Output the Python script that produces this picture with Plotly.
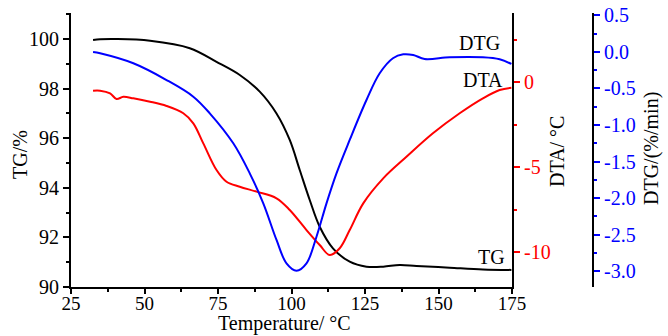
import plotly.graph_objects as go

# Temperature (°C) samples for each curve
tg_t = [32.5, 34.9, 40.5, 51.9, 65.4, 74.5, 82.4, 89.2, 94.9, 99.4, 102.8, 106.2, 109.6, 114.1, 119.8, 125.5, 131.2, 136.8, 142.5, 153.8, 165.1, 174.8]
tg_v = [99.96, 99.99, 100.0, 99.93, 99.63, 99.08, 98.55, 97.88, 97.0, 95.93, 94.72, 93.51, 92.43, 91.56, 91.02, 90.82, 90.82, 90.89, 90.85, 90.78, 90.71, 90.69]

dtg_t = [32.5, 34.9, 46.2, 57.5, 66.6, 72.2, 80.2, 85.8, 90.4, 94.9, 98.3, 101.7, 105.1, 108.5, 111.9, 115.3, 119.8, 125.5, 130.0, 134.5, 138.0, 141.4, 145.3, 153.8, 165.1, 170.8, 174.8]
dtg_v = [0.0, -0.018, -0.155, -0.384, -0.612, -0.84, -1.251, -1.662, -2.073, -2.575, -2.895, -2.996, -2.895, -2.53, -2.073, -1.662, -1.205, -0.658, -0.292, -0.086, -0.032, -0.041, -0.096, -0.073, -0.073, -0.10, -0.164]

dta_t = [32.5, 34.9, 38.3, 40.5, 42.8, 46.2, 51.9, 57.5, 63.2, 66.6, 70.0, 74.5, 77.9, 82.4, 88.1, 94.9, 99.4, 105.1, 109.6, 113.0, 116.4, 119.8, 124.4, 131.2, 139.1, 148.1, 157.2, 165.1, 170.8, 174.8]
dta_v = [-0.49, -0.49, -0.65, -0.98, -0.85, -0.94, -1.14, -1.39, -1.82, -2.41, -3.59, -5.16, -5.85, -6.14, -6.43, -6.82, -7.51, -8.69, -9.57, -10.16, -9.76, -8.69, -7.12, -5.65, -4.38, -3.0, -1.82, -0.94, -0.45, -0.32]

x_ticks = [25, 50, 75, 100, 125, 150, 175]
tg_ticks = [90, 92, 94, 96, 98, 100]
dta_ticks = [-10, -5, 0]
dta_labels = ["-10", "-5", "0"]
dtg_ticks = [-3.0, -2.5, -2.0, -1.5, -1.0, -0.5, 0.0, 0.5]
dtg_labels = ["-3.0", "-2.5", "-2.0", "-1.5", "-1.0", "-0.5", "0.0", "0.5"]

FONT = "Liberation Serif"
FS = 20
XFS = 19
TFS = 20

fig = go.Figure()
fig.add_trace(go.Scatter(x=tg_t, y=tg_v, mode="lines", line=dict(color="black", width=2, shape="spline"), yaxis="y"))
fig.add_trace(go.Scatter(x=dta_t, y=dta_v, mode="lines", line=dict(color="red", width=2, shape="spline"), yaxis="y2"))
fig.add_trace(go.Scatter(x=dtg_t, y=dtg_v, mode="lines", line=dict(color="blue", width=2, shape="spline"), yaxis="y3"))

L, R, T, B = 71, 593, 13, 287
W, H = 668, 336
PW, PH = R - L, B - T
xdom_end = (512 - L) / PW
DTA_RANGE = [-12.04, 4.08]

def px(xp):
    return (xp - L) / PW

def py(yp):
    return (B - yp) / PH

fig.update_layout(
    width=W, height=H,
    margin=dict(l=L, r=W - R, t=T, b=H - B, pad=0),
    paper_bgcolor="white", plot_bgcolor="white",
    showlegend=False,
    font=dict(family=FONT, size=FS, color="black"),
    xaxis=dict(
        domain=[0, xdom_end], range=[25, 175], tickvals=x_ticks, automargin=False,
        ticks="outside", ticklen=5, tickwidth=1.5, tickcolor="black", ticklabelstandoff=-7,
        minor=dict(dtick=12.5, tick0=25, ticks="outside", ticklen=3, tickcolor="black"),
        showline=True, linecolor="black", linewidth=2, showgrid=False, zeroline=False,
        tickfont=dict(family=FONT, size=XFS),
    ),
    yaxis=dict(
        range=[90, 101.05], tickvals=tg_ticks, automargin=False,
        ticks="outside", ticklen=6, tickwidth=1.5, tickcolor="black",
        minor=dict(dtick=1, tick0=90, ticks="outside", ticklen=3, tickcolor="black"),
        showline=True, linecolor="black", linewidth=2, showgrid=False, zeroline=False,
        tickfont=dict(family=FONT, size=FS),
    ),
    yaxis2=dict(
        overlaying="y", side="right", anchor="x", automargin=False,
        range=DTA_RANGE, tickvals=dta_ticks, ticktext=dta_labels,
        ticks="outside", ticklen=6, tickwidth=1.5, tickcolor="red",
        minor=dict(dtick=2.5, tick0=0, ticks="outside", ticklen=3, tickcolor="red"),
        showline=True, linecolor="black", linewidth=2, showgrid=False, zeroline=False,
        tickfont=dict(family=FONT, size=FS, color="red"),
    ),
    yaxis4=dict(
        overlaying="y", side="right", anchor="x", automargin=False,
        range=DTA_RANGE, tickvals=dta_ticks, showticklabels=False,
        ticks="inside", ticklen=6, tickwidth=1.5, tickcolor="red",
        minor=dict(dtick=2.5, tick0=0, ticks="inside", ticklen=3, tickcolor="red"),
        showline=False, showgrid=False, zeroline=False,
    ),
    yaxis3=dict(
        overlaying="y", side="right", anchor="free", position=1, automargin=False,
        range=[-3.219, 0.534], tickvals=dtg_ticks, ticktext=dtg_labels,
        ticks="outside", ticklen=6, tickwidth=1.5, tickcolor="blue",
        minor=dict(dtick=0.25, tick0=0, ticks="outside", ticklen=3, tickcolor="blue"),
        showline=True, linecolor="black", linewidth=2, showgrid=False, zeroline=False,
        tickfont=dict(family=FONT, size=FS, color="blue"),
    ),
)

# axis titles as text
fig.add_annotation(x=px(284), y=py(336), xref="paper", yref="paper", text="Temperature/ °C",
                   showarrow=False, xanchor="center", yanchor="bottom", borderpad=0,
                   font=dict(family=FONT, size=TFS, color="black"))
titles = [
    ("TG/%", 20, 155),
    ("DTA/ °C", 557, 152),
    ("DTG/(%/min)", 651, 149),
]
for txt, xp_, yp_ in titles:
    fig.add_annotation(x=px(xp_), y=py(yp_), xref="paper", yref="paper", text=txt,
                       showarrow=False, textangle=-90, xanchor="center", yanchor="middle",
                       font=dict(family=FONT, size=TFS, color="black"))

labels = [("DTG", 164.0, 99.84), ("DTA", 165.0, 98.35), ("TG", 168.1, 91.21)]
for txt, lx, ly in labels:
    fig.add_annotation(x=lx, y=ly, xref="x", yref="y", text=txt, showarrow=False,
                       font=dict(family=FONT, size=TFS, color="black"))

fig.write_html("out.html")
